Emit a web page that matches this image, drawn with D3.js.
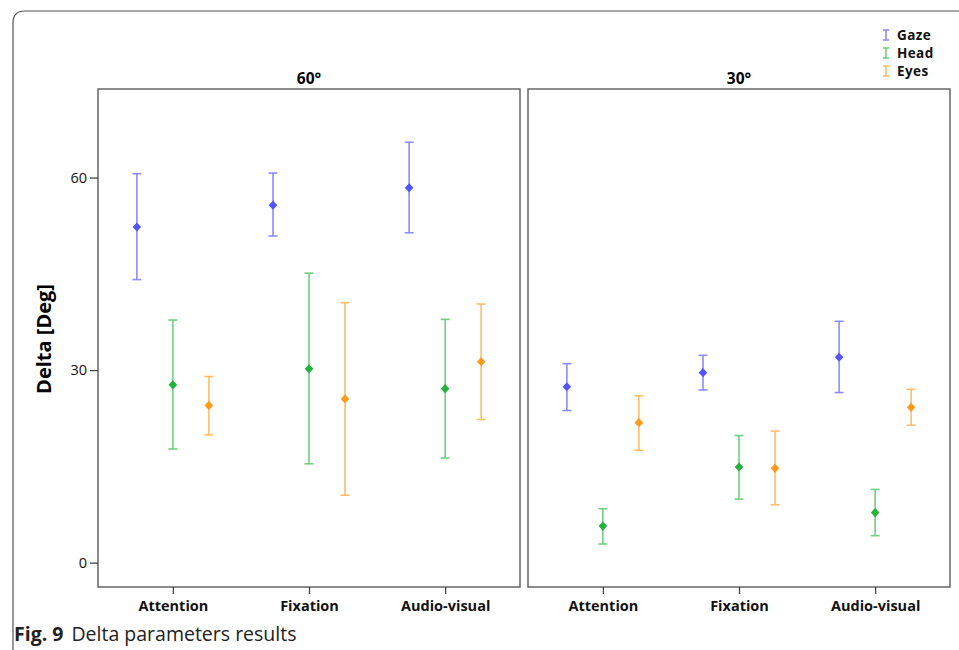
<!DOCTYPE html>
<html><head><meta charset="utf-8">
<script src="https://cdn.jsdelivr.net/npm/d3@7"></script>
<style>body{margin:0;background:#fff}svg{display:block}</style>
</head><body>
<svg id="c" width="959" height="650"></svg>
<script>
const panels = ["60°", "30°"];
const categories = ["Attention", "Fixation", "Audio-visual"];
const seriesNames = ["Gaze", "Head", "Eyes"];
const yTicks = [0, 30, 60];
// [panel][series][category] mean, low, high
const means = {
  "60°": {Gaze:[52.3,55.7,58.4], Head:[27.7,30.2,27.1], Eyes:[24.5,25.5,31.3]},
  "30°": {Gaze:[27.4,29.6,32.0], Head:[5.7,14.9,7.8], Eyes:[21.8,14.7,24.2]}
};
const lows = {
  "60°": {Gaze:[44.1,50.9,51.4], Head:[17.7,15.4,16.3], Eyes:[19.9,10.5,22.3]},
  "30°": {Gaze:[23.7,26.9,26.5], Head:[2.9,9.9,4.2], Eyes:[17.5,9.0,21.4]}
};
const highs = {
  "60°": {Gaze:[60.6,60.7,65.5], Head:[37.8,45.1,37.9], Eyes:[29.0,40.5,40.3]},
  "30°": {Gaze:[31.0,32.3,37.6], Head:[8.4,19.8,11.4], Eyes:[26.0,20.5,27.0]}
};
const markerColors = {Gaze:"#5353ff", Head:"#23b23c", Eyes:"#ff9a1c"};
const barColors = {Gaze:"#8c8cff", Head:"#72cf80", Eyes:"#ffbd6a"};

const svg = d3.select("#c");
const font = "'Open Sans', 'DejaVu Sans', sans-serif";

// outer frame
svg.append("path")
  .attr("d", "M13,650 L13,23 Q13,11 25,11 L959,11")
  .attr("fill","none").attr("stroke","#555").attr("stroke-width",1.2);

const plotTop = 89, plotBottom = 587;
const y = d3.scaleLinear().domain([-3.8, 73.8]).range([plotBottom, plotTop]);
const panelX = {"60°":[98,520], "30°":[528,950]};
const offsets = d3.scalePoint().domain(seriesNames).range([-36, 36]);

panels.forEach(p => {
  const [x0, x1] = panelX[p];
  const x = d3.scalePoint().domain(categories).range([x0, x1]).padding(0.55);
  const g = svg.append("g");
  g.append("rect").attr("x", x0).attr("y", plotTop).attr("width", x1-x0).attr("height", plotBottom-plotTop)
    .attr("fill","none").attr("stroke","#666").attr("stroke-width",1.5);
  g.append("text").attr("x",(x0+x1)/2).attr("y",84).attr("text-anchor","middle")
    .attr("font-family",font).attr("font-weight","bold").attr("font-size",15.5).text(p);
  // x axis
  const xa = g.append("g").attr("transform",`translate(0,${plotBottom})`)
    .call(d3.axisBottom(x).tickSize(7).tickPadding(7));
  xa.select(".domain").remove();
  xa.selectAll("line").attr("stroke","#444").attr("stroke-width",1.3);
  xa.selectAll("text").attr("font-family",font).attr("font-weight","bold").attr("font-size",14.5).attr("fill","#111");
  if (p === "60°") {
    const ya = g.append("g").attr("transform",`translate(${x0},0)`)
      .call(d3.axisLeft(y).tickValues(yTicks).tickSize(8).tickPadding(3));
    ya.select(".domain").remove();
    ya.selectAll("line").attr("stroke","#444").attr("stroke-width",1.3);
    ya.selectAll("text").attr("font-family",font).attr("font-size",14.5).attr("fill","#111");
  }
  seriesNames.forEach(s => {
    categories.forEach((c, i) => {
      const cx = x(c) + offsets(s);
      const m = means[p][s][i], lo = lows[p][s][i], hi = highs[p][s][i];
      const bc = barColors[s];
      g.append("line").attr("x1",cx).attr("x2",cx).attr("y1",y(lo)).attr("y2",y(hi))
        .attr("stroke",bc).attr("stroke-width",1.6);
      [lo, hi].forEach(v => g.append("line").attr("x1",cx-4.5).attr("x2",cx+4.5)
        .attr("y1",y(v)).attr("y2",y(v)).attr("stroke",bc).attr("stroke-width",1.6));
      g.append("path").attr("transform",`translate(${cx},${y(m)})`)
        .attr("d","M0,-4.6 L4.3,0 L0,4.6 L-4.3,0 Z").attr("fill",markerColors[s]);
    });
  });
});

// y label
svg.append("text").attr("transform","translate(51,339) rotate(-90)").attr("text-anchor","middle")
  .attr("font-family",font).attr("font-weight","bold").attr("font-size",20).text("Delta [Deg]");

// legend
seriesNames.forEach((s, i) => {
  const ly = 35 + i*18;
  const lg = svg.append("g").attr("transform",`translate(886,${ly})`);
  lg.append("line").attr("x1",0).attr("x2",0).attr("y1",-5).attr("y2",5).attr("stroke",barColors[s]).attr("stroke-width",1.6);
  lg.append("line").attr("x1",-3).attr("x2",3).attr("y1",-5).attr("y2",-5).attr("stroke",barColors[s]).attr("stroke-width",1.6);
  lg.append("line").attr("x1",-3).attr("x2",3).attr("y1",5).attr("y2",5).attr("stroke",barColors[s]).attr("stroke-width",1.6);
  lg.append("text").attr("x",11).attr("y",0).attr("dy","0.35em").attr("font-family",font).attr("font-weight","bold")
    .attr("font-size",13.5).attr("letter-spacing",0.4).attr("fill","#111").text(s);
});

// caption
const cap = svg.append("text").attr("x",14).attr("y",641).attr("font-family","'Open Sans', sans-serif").attr("font-size",19.5).attr("fill","#222");
cap.append("tspan").attr("font-weight","bold").text("Fig. 9");
cap.append("tspan").attr("dx",8).text("Delta parameters results");
</script>
</body></html>
